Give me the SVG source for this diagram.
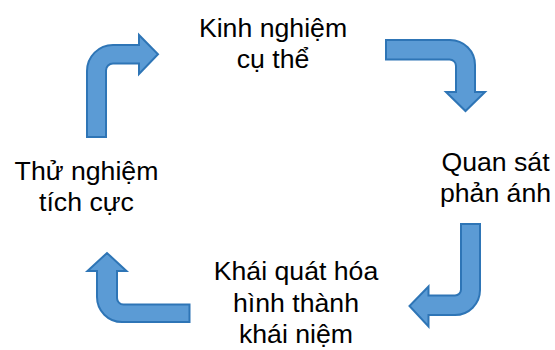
<svg xmlns="http://www.w3.org/2000/svg" width="555" height="350" viewBox="0 0 555 350">
  <style>
    .arrow { fill: #5B9BD5; stroke: #2E75B6; stroke-width: 2; stroke-linejoin: miter; }
    .label { font-family: "Liberation Sans", Arial, sans-serif; font-size: 26.67px; fill: #000; text-anchor: middle; }
  </style>
  <rect width="555" height="350" fill="#ffffff"/>

  <!-- Nodes: the four stages of the learning cycle -->
  <g id="node-kinh-nghiem">
    <text class="label" x="273" y="37">Kinh nghiệm</text>
    <text class="label" x="273" y="68">cụ thể</text>
  </g>
  <g id="node-quan-sat">
    <text class="label" x="495.5" y="171">Quan sát</text>
    <text class="label" x="495.5" y="202">phản ánh</text>
  </g>
  <g id="node-khai-quat">
    <text class="label" x="296" y="280">Khái quát hóa</text>
    <text class="label" x="296" y="312">hình thành</text>
    <text class="label" x="296" y="343">khái niệm</text>
  </g>
  <g id="node-thu-nghiem">
    <text class="label" x="86.5" y="179.5">Thử nghiệm</text>
    <text class="label" x="86.5" y="210.5">tích cực</text>
  </g>

  <!-- Connectors: bent block arrows running clockwise -->
  <g id="connectors">
    <!-- Thử nghiệm -> Kinh nghiệm (up, then right) -->
    <path class="arrow" d="M87,137 L87,71 A26,26 0 0 1 113,45 L139,45 L139,35 L158,54.3 L139,74 L139,63.5 L113,63.5 A7,7 0 0 0 106,70.5 L106,137 Z"/>
    <!-- Kinh nghiệm -> Quan sát (right, then down) -->
    <path class="arrow" d="M386,40 L450,40 A25,25 0 0 1 475,65 L475,92 L485,92 L465.5,111 L446,92 L456,92 L456,66 A6.5,6.5 0 0 0 449.5,59.5 L386,59.5 Z"/>
    <!-- Quan sát -> Khái quát (down, then left) -->
    <path class="arrow" d="M461,224 L480,224 L480,290 A25,25 0 0 1 455,315 L428.5,315 L428.5,326.5 L409.5,306 L428.5,286.5 L428.5,295.5 L455,295.5 A6,6 0 0 0 461,289.5 Z"/>
    <!-- Khái quát -> Thử nghiệm (left, then up) -->
    <path class="arrow" d="M189.5,304.5 L189.5,322 L122,322 A25,25 0 0 1 97,297 L97,271 L87.5,271 L107,253 L126.5,271 L117,271 L117,298 A6.5,6.5 0 0 0 123.5,304.5 Z"/>
  </g>
</svg>
